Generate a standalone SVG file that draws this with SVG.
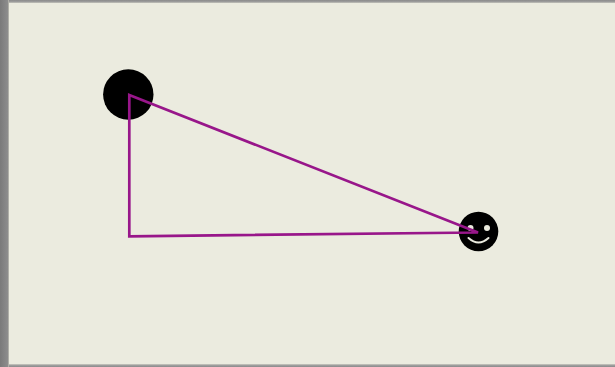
<svg xmlns="http://www.w3.org/2000/svg" width="615" height="367" viewBox="0 0 615 367">
<defs>
<linearGradient id="leftEdge" x1="0" x2="1" y1="0" y2="0">
<stop offset="0" stop-color="#7a7a7a"/>
<stop offset="0.85" stop-color="#8c8c8c"/>
<stop offset="1" stop-color="#c4c4b8"/>
</linearGradient>
<linearGradient id="topEdge" x1="0" x2="0" y1="0" y2="1">
<stop offset="0" stop-color="#8a8a8a"/>
<stop offset="0.7" stop-color="#a0a0a0"/>
<stop offset="1" stop-color="#d0d0c4"/>
</linearGradient>
<linearGradient id="bottomEdge" x1="0" x2="0" y1="0" y2="1">
<stop offset="0" stop-color="#d0d0c4"/>
<stop offset="0.4" stop-color="#a0a0a0"/>
<stop offset="1" stop-color="#8a8a8a"/>
</linearGradient>
</defs>
<style>
.bg{fill:#ebebdf}
.body{fill:#000}
.link{fill:none;stroke:#98168a;stroke-width:2.7;stroke-linejoin:miter}
.face{fill:#ebebdf}
.smile{fill:none;stroke:#ebebdf;stroke-width:2;stroke-linecap:round}
</style>
<rect class="bg" width="615" height="367"/>
<rect fill="url(#topEdge)" x="0" y="0" width="615" height="3"/>
<rect fill="url(#bottomEdge)" x="0" y="364" width="615" height="3"/>
<rect fill="url(#leftEdge)" x="0" y="0" width="9" height="367"/>
<g id="node-large"><circle class="body" cx="128.3" cy="94.5" r="25.2"/></g>
<g id="node-smiley">
<circle class="body" cx="478.5" cy="231.5" r="19.8"/>
<circle class="face" cx="470.5" cy="228" r="3"/>
<circle class="face" cx="487" cy="228" r="3"/>
<path class="smile" d="M468.5 238Q478.5 247 488.5 238"/>
</g>
<g id="connectors"><path class="link" d="M129.3 95L478 232.5L129.3 236.3Z"/></g>
</svg>
